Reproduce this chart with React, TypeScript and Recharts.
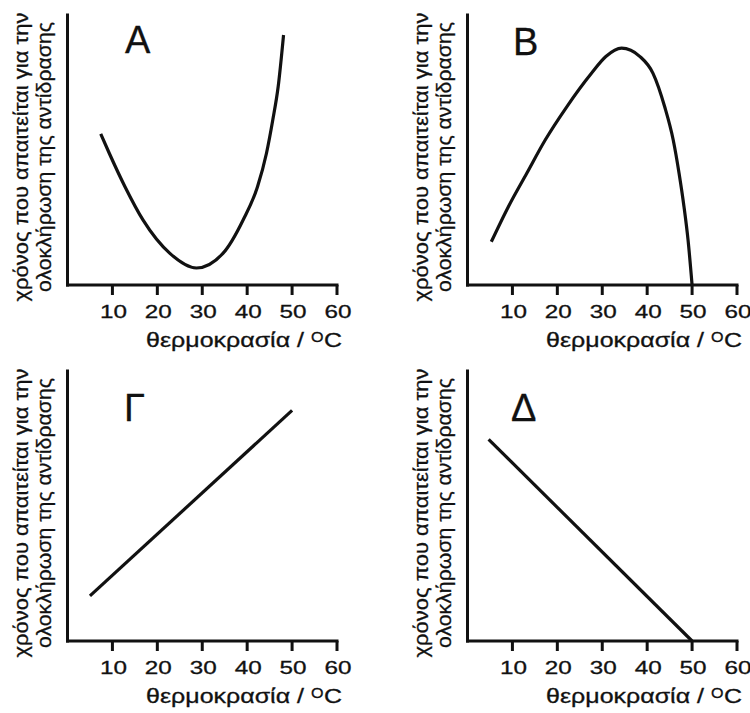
import { LineChart, Line, XAxis, YAxis } from 'recharts';

// temperature (°C) vs relative time to completion (0-100 of the y axis)
const tempTicks = [10, 20, 30, 40, 50, 60];

const tempA = [7.4, 9.3, 12.8, 16.8, 22.8, 28.7, 34.6, 39.1, 42.3, 44.3, 45.7, 46.9, 48.1];
const timeA = [56, 48.8, 36.4, 24.1, 11.7, 6.3, 11.7, 24.1, 36.4, 48.8, 61.1, 73.4, 92.6];

const tempB = [5.3, 9.1, 13.2, 17.3, 22.1, 27.6, 30.8, 34.3, 38.4, 41.3, 43.9, 45.8, 47.1, 48.2, 49.1, 50];
const timeB = [16, 29, 41.4, 53.7, 66, 78.4, 84.6, 87.7, 84.6, 78.4, 66, 53.7, 41.4, 29, 16.7, 0];

const tempG = [5, 50];
const timeG = [16.7, 85.4];

const tempD = [4.7, 50];
const timeD = [74.7, 0];

const panelNames = ['Α', 'Β', 'Γ', 'Δ'];
const yLabelLines = ['χρόνος που απαιτείται για την', 'ολοκλήρωση της αντίδρασης'];
const xLabelText = 'θερμοκρασία /';

const font = '"Liberation Sans", Arial, sans-serif';
const ink = '#111';

type PanelProps = {
  temps: number[];
  times: number[];
  name: string;
  curved: boolean;
  letterX: number;
  letterY: number;
};

// the source uses a wider sans face, so text is stretched to the measured lengths
const XTick = (props: any) => {
  const { x, y, payload } = props;
  return (
    <text
      x={x + 1}
      y={y + 14}
      textAnchor="middle"
      fontFamily={font}
      fontSize={19}
      fill={ink}
      stroke={ink}
      strokeWidth={0.3}
      textLength={27}
      lengthAdjust="spacingAndGlyphs"
    >
      {payload.value}
    </text>
  );
};

function Panel({ temps, times, name, curved, letterX, letterY }: PanelProps) {
  const data = temps.map((t, i) => ({ t, v: times[i] }));

  const yLabel = (props: any) => {
    const vb = props.viewBox;
    const cy = vb.y + vb.height / 2 + 7;
    return (
      <g fontFamily={font} fill={ink} stroke={ink} strokeWidth={0.3}>
        <text
          transform={`translate(28,${cy}) rotate(-90)`}
          textAnchor="middle"
          fontSize={20}
          textLength={289}
          lengthAdjust="spacingAndGlyphs"
        >
          {yLabelLines[0]}
        </text>
        <text
          transform={`translate(51,${cy}) rotate(-90)`}
          textAnchor="middle"
          fontSize={20}
          textLength={270}
          lengthAdjust="spacingAndGlyphs"
        >
          {yLabelLines[1]}
        </text>
        <text x={letterX} y={letterY} fontSize={38}>
          {name}
        </text>
      </g>
    );
  };

  const xLabel = (props: any) => {
    const vb = props.viewBox;
    const base = vb.y + 61.5;
    return (
      <g fontFamily={font} fill={ink} stroke={ink} strokeWidth={0.3}>
        <text x={vb.x + 78.5} y={base} fontSize={20} textLength={158} lengthAdjust="spacingAndGlyphs">
          {xLabelText}
        </text>
        <text x={vb.x + 243.5} y={base - 5} fontSize={15} textLength={12.5} lengthAdjust="spacingAndGlyphs">
          O
        </text>
        <text x={vb.x + 256.5} y={base} fontSize={20} textLength={18} lengthAdjust="spacingAndGlyphs">
          C
        </text>
      </g>
    );
  };

  return (
    <LineChart width={400} height={356} data={data} margin={{ top: 15, right: 63, bottom: 0, left: 0 }}>
      <XAxis
        type="number"
        dataKey="t"
        domain={[0, 60]}
        ticks={tempTicks}
        interval={0}
        height={71}
        tickSize={10}
        tickMargin={9}
        axisLine={{ stroke: ink, strokeWidth: 3, strokeLinecap: 'square' }}
        tickLine={{ stroke: ink, strokeWidth: 3 }}
        tick={XTick}
        label={xLabel}
      />
      <YAxis
        type="number"
        domain={[0, 100]}
        width={67.5}
        tick={false}
        tickLine={false}
        axisLine={{ stroke: ink, strokeWidth: 3, strokeLinecap: 'square' }}
        label={yLabel}
      />
      <Line
        type={curved ? 'monotone' : 'linear'}
        dataKey="v"
        stroke={ink}
        strokeWidth={3.2}
        dot={false}
        activeDot={false}
        isAnimationActive={false}
      />
    </LineChart>
  );
}

export default function App() {
  return (
    <div
      style={{
        position: 'absolute',
        left: 0,
        top: 0,
        width: 750,
        height: 713,
        overflow: 'hidden',
        background: '#fff',
      }}
    >
      <div style={{ position: 'absolute', left: 0, top: 0 }}>
        <Panel temps={tempA} times={timeA} name={panelNames[0]} curved letterX={125} letterY={53} />
      </div>
      <div style={{ position: 'absolute', left: 400, top: 0 }}>
        <Panel temps={tempB} times={timeB} name={panelNames[1]} curved letterX={113} letterY={55} />
      </div>
      <div style={{ position: 'absolute', left: 0, top: 356 }}>
        <Panel temps={tempG} times={timeG} name={panelNames[2]} curved={false} letterX={124} letterY={65} />
      </div>
      <div style={{ position: 'absolute', left: 400, top: 356 }}>
        <Panel temps={tempD} times={timeD} name={panelNames[3]} curved={false} letterX={111} letterY={65} />
      </div>
    </div>
  );
}
